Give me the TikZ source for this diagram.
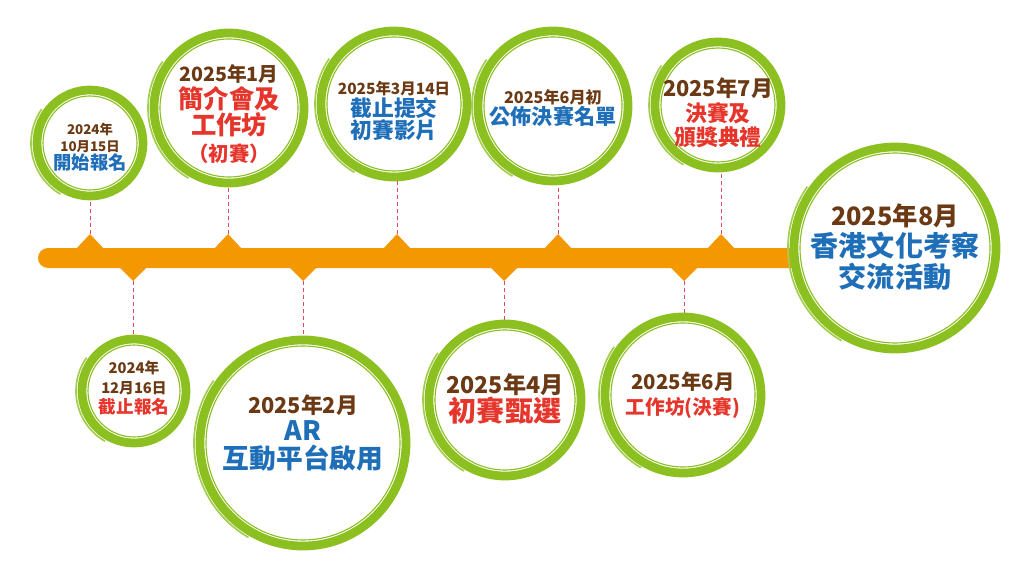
\documentclass[tikz,border=0pt]{standalone}
\usepackage{fontspec}
\newfontfamily\cjk{Noto Sans CJK TC}
\usetikzlibrary{positioning}
\definecolor{ringgreen}{HTML}{8CC021}
\definecolor{barorange}{HTML}{F39800}
\definecolor{datebrown}{HTML}{6B3A14}
\definecolor{eventred}{HTML}{E6362B}
\definecolor{eventblue}{HTML}{1E6EB8}
\definecolor{dashred}{HTML}{E04A5C}
\newcommand\dateln[2]{{\color{datebrown}\fontsize{#1}{#1}\selectfont #2}}
\newcommand\redln[2]{{\color{eventred}\fontsize{#1}{#1}\selectfont #2}}
\newcommand\blueln[2]{{\color{eventblue}\fontsize{#1}{#1}\selectfont #2}}

\begin{document}
\begin{tikzpicture}[x=0.025cm,y=-0.025cm,
    ring/.style={circle,draw=ringgreen,line width=6.2pt,fill=white,inner sep=0pt},
    txt/.style={align=center,inner sep=0pt,font=\cjk\bfseries\fontsize{10}{#1}\selectfont},
    dashline/.style={draw=dashred,line width=0.7pt,dash pattern=on 3pt off 2pt}]
    \useasboundingbox (0,0) rectangle (1024,571);
    % timeline bar
    \fill[barorange,rounded corners=0.25cm] (38,248) rectangle (808,268);
    \foreach \x [count=\i] in {90,228,397,558,721} {
        \fill[barorange] (\x-14,249) -- (\x,234) -- (\x+14,249) -- cycle;
        \coordinate (up\i) at (\x,234);
    }
    \foreach \x [count=\i] in {133,303,504,684} {
        \fill[barorange] (\x-14,267) -- (\x,281) -- (\x+14,267) -- cycle;
        \coordinate (dn\i) at (\x,281);
    }
    % circles
    \foreach \n/\x/\y/\r in {oct/90/143/53, jan/229/108/75, mar/394/104/73,
        junA/553/106/75, jul/718/105/63, aug/895/248/101,
        dec/134/391/52, feb/303/443/103, apr/505/400/76, junB/683/395/78} {
        \node[ring,minimum size={\r*0.05cm}] (\n) at (\x,\y) {};
        \draw[ringgreen,line width=0.8pt] (\n.center) circle[radius=\r-6];
        \draw[ringgreen!80,line width=1.2pt] ([shift={(120:\r+6)}]\n.center) arc[start angle=120,end angle=215,radius=\r+6];
    }
    \draw[dashline] (up1) -- (up1 |- oct.south);
    \draw[dashline] (up2) -- (up2 |- jan.south);
    \draw[dashline] (up3) -- (up3 |- mar.south);
    \draw[dashline] (up4) -- (up4 |- junA.south);
    \draw[dashline] (up5) -- (up5 |- jul.south);
    \draw[dashline] (dn1) -- (dn1 |- dec.north);
    \draw[dashline] (dn2) -- (dn2 |- feb.north);
    \draw[dashline] (dn3) -- (dn3 |- apr.north);
    \draw[dashline] (dn4) -- (dn4 |- junB.north);
    % texts
    \node[txt=12.5pt] (octtext) at (90,147) {\dateln{9.5}{2024年}\\\dateln{9.5}{10月15日}\\\blueln{13}{開始報名}};
    \node[txt=19pt] (jantext) at (229,114) {\dateln{14}{2025年1月}\\\redln{18}{簡介會及}\\\redln{18}{工作坊}\\\redln{14.5}{（初賽）}};
    \node[txt=15.5pt] (martext) at (394,111) {\dateln{11}{2025年3月14日}\\\blueln{15.5}{截止提交}\\\blueln{15.5}{初賽影片}};
    \node[txt=13.5pt] (junAtext) at (553,108) {\dateln{11.5}{2025年6月初}\\\blueln{15}{公佈決賽名單}};
    \node[txt=17.5pt] (jultext) at (718,113) {\dateln{15.5}{2025年7月}\\\redln{15.5}{決賽及}\\\redln{15.5}{頒獎典禮}};
    \node[txt=22pt] (augtext) at (895,247) {\dateln{18}{2025年8月}\\\blueln{20}{香港文化考察}\\\blueln{20}{交流活動}};
    \node[txt=14pt] (dectext) at (134,388) {\dateln{10.5}{2024年}\\\dateln{10.5}{12月16日}\\\redln{12.5}{截止報名}};
    \node[txt=19.5pt] (febtext) at (303,433) {\dateln{15.5}{2025年2月}\\\blueln{19}{AR}\\\blueln{19}{互動平台啟用}};
    \node[txt=20pt] (aprtext) at (505,399) {\dateln{16.5}{2025年4月}\\\redln{20}{初賽甄選}};
    \node[txt=17.5pt] (junBtext) at (683,395) {\dateln{14.5}{2025年6月}\\\redln{14}{工作坊(決賽)}};
\end{tikzpicture}
\end{document}
